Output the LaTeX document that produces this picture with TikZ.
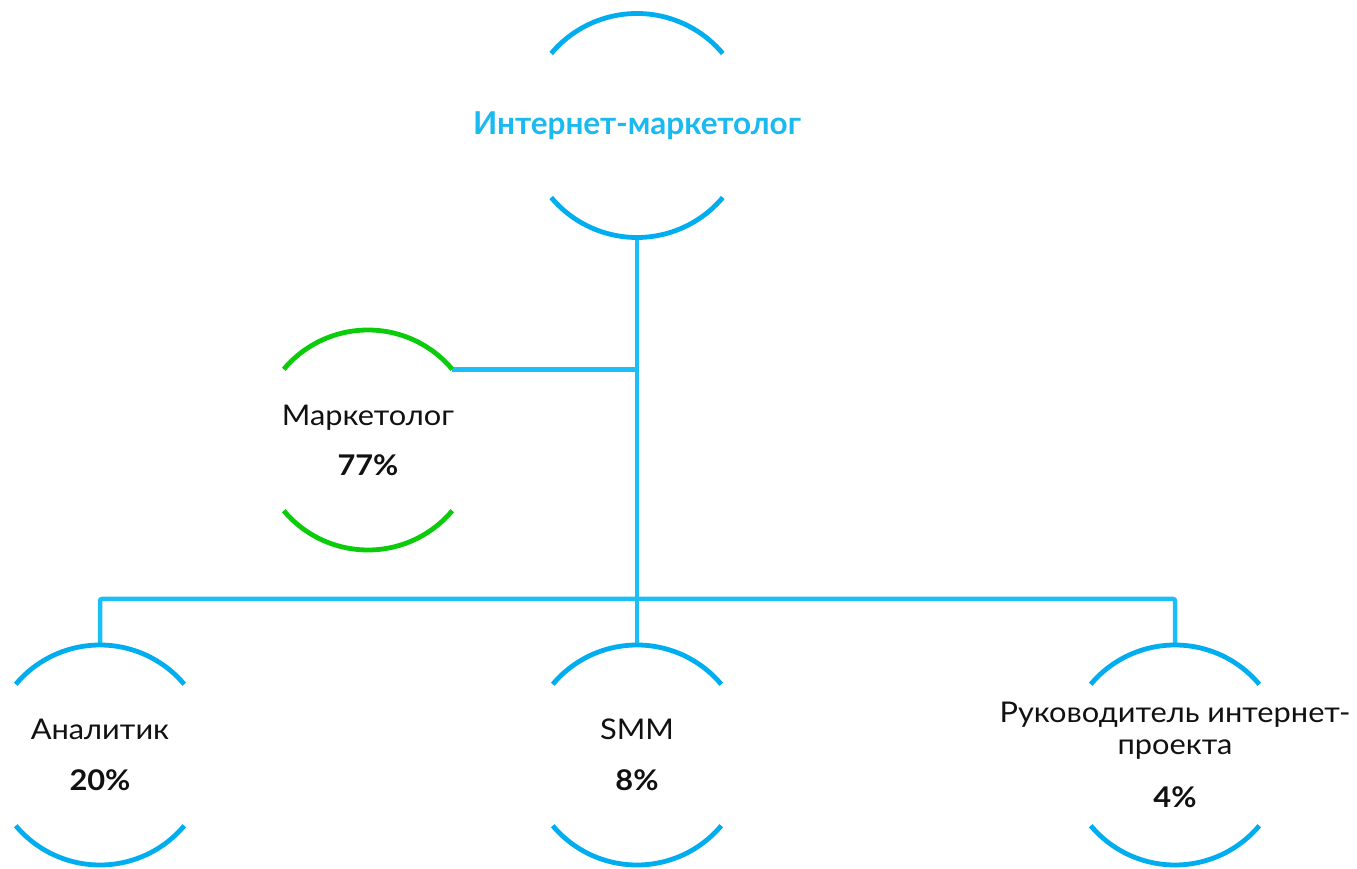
\documentclass[tikz,border=0pt]{standalone}
\usepackage{fontspec}
\setmainfont{Lato}
\newfontfamily\bodyfont[FakeStretch=1.08]{Lato}
\definecolor{arcblue}{HTML}{00AEEF}
\definecolor{lineblue}{HTML}{1CBEF7}
\definecolor{arcgreen}{HTML}{0ACC0A}
\definecolor{titleblue}{HTML}{1AB9F0}
\definecolor{ink}{HTML}{111111}
\newcommand\ringarcs[3]{%
  \draw[#2, line width=4.8pt] (#1.140) arc[start angle=140, end angle=40, radius=#3];
  \draw[#2, line width=4.8pt] (#1.220) arc[start angle=220, end angle=320, radius=#3];}
\begin{document}
\begin{tikzpicture}[x=1pt,y=1pt,
  ring/.style={circle, minimum size=220pt, inner sep=0pt, outer sep=0pt, draw=none},
  txt/.style={align=center, text=ink, inner sep=0pt, font=\bodyfont\fontsize{28.5}{32}\selectfont},
  conn/.style={draw=lineblue, line width=4.5pt, rounded corners=2pt},
  ]
\useasboundingbox (0,0) rectangle (1357,868);
% ring nodes
\node[ring, minimum size=224pt] (top) at (637,742.5) {};
\node[ring] (mk)  at (368,428) {};
\node[ring] (an)  at (100,113) {};
\node[ring] (smm) at (637,113) {};
\node[ring] (ruk) at (1175,113) {};
\coordinate (bus) at (637,269);
% connectors
\draw[conn] (top.south) -- (smm.north);
\draw[conn] (mk.40) -- (mk.40 -| top.south);
\draw[conn] (an.north) |- (bus) -| (ruk.north);
% arcs
\ringarcs{top}{arcblue}{112pt}
\ringarcs{mk}{arcgreen}{110pt}
\ringarcs{an}{arcblue}{110pt}
\ringarcs{smm}{arcblue}{110pt}
\ringarcs{ruk}{arcblue}{110pt}
% texts
\node[txt, text=titleblue, font=\bfseries\fontsize{31.5}{36}\selectfont] (t-top) at (top) {Интернет-маркетолог};
\node[txt] (t-mk) at (mk) {Маркетолог\\[18pt]\textbf{77\%}};
\node[txt] (t-an) at (an) {Аналитик\\[19pt]\textbf{20\%}};
\node[txt] (t-smm) at (smm) {SMM\\[19pt]\textbf{8\%}};
\node[txt] (t-ruk) at (ruk) {Руководитель интернет-\\проекта\\[21pt]\textbf{4\%}};
\end{tikzpicture}
\end{document}
